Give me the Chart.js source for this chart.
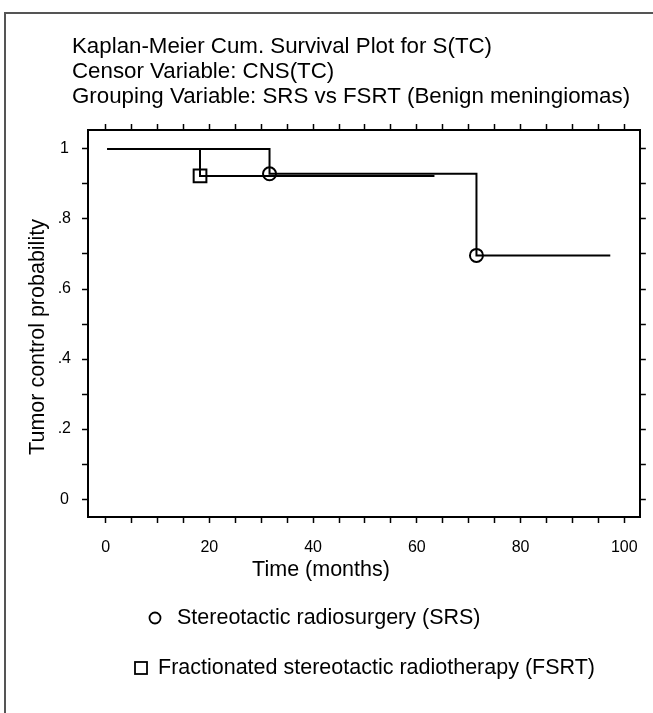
<!DOCTYPE html>
<html>
<head>
<meta charset="utf-8">
<title>Kaplan-Meier Cum. Survival Plot for S(TC)</title>
<script src="https://cdn.jsdelivr.net/npm/chart.js@4.4.1/dist/chart.umd.min.js"></script>
<style>
  html, body { margin: 0; padding: 0; background: #fff; }
  #wrap { position: relative; width: 653px; height: 713px; overflow: hidden; }
  #frame { position: absolute; left: 4px; top: 12px; right: -10px; bottom: -10px;
           border-left: 2px solid #555; border-top: 2px solid #555; }
  canvas { position: absolute; left: 0; top: 0; }
</style>
</head>
<body>
<div id="wrap">
  <div id="frame"></div>
  <canvas id="kmChart" width="653" height="713"></canvas>
</div>
<script>
// Chart data
const srsMonths = [0.3, 31.6, 71.5, 97.3];
const srsSurvival = [1, 0.929, 0.696, 0.696];
const srsMarked = [false, true, true, false];

const fsrtMonths = [0.3, 18.2, 63.4];
const fsrtSurvival = [1, 0.923, 0.923];
const fsrtMarked = [false, true, false];

const xTickLabels = ['0', '20', '40', '60', '80', '100'];
const yTickLabels = ['0', '.2', '.4', '.6', '.8', '1'];

const titleLines = [
    'Kaplan-Meier Cum. Survival Plot for S(TC)',
    'Censor Variable: CNS(TC)',
    'Grouping Variable: SRS vs FSRT (Benign meningiomas)'
];
const xTitle = 'Time (months)';
const yTitle = 'Tumor control probability';
const srsName = 'Stereotactic radiosurgery (SRS)';
const fsrtName = 'Fractionated stereotactic radiotherapy (FSRT)';

const FONT = '"Liberation Sans", Arial, Helvetica, sans-serif';

// axis ranges
const xMin = -3.4, xMax = 103;
const yMin = -0.051, yMax = 1.054;

function points(xs, ys) {
    return xs.map((x, i) => ({ x: x, y: ys[i] }));
}

// shared look for the four frame axes
function frameAxis(position, min, max, step, size, labelFn, padding) {
    const vertical = position === 'left' || position === 'right';
    return {
        type: 'linear',
        position: position,
        min: min,
        max: max,
        afterFit: function (scale) {
            if (vertical) scale.width = size;
            else scale.height = size;
        },
        ticks: {
            stepSize: step,
            includeBounds: false,
            autoSkip: false,
            maxRotation: 0,
            padding: padding,
            crossAlign: vertical ? 'center' : 'near',
            color: '#000',
            font: { family: FONT, size: 16 },
            callback: labelFn
        },
        grid: {
            drawOnChartArea: false,
            drawTicks: true,
            tickLength: 6,
            tickColor: '#000',
            tickWidth: 1.5
        },
        border: { display: true, color: '#000', width: 2 }
    };
}

function xLabel(v) {
    const k = Math.round(v / 5);
    return k % 4 === 0 ? xTickLabels[k / 4] : '';
}
function yLabel(v) {
    const k = Math.round(v * 10);
    return k % 2 === 0 ? yTickLabels[k / 2] : '';
}
const noLabel = () => '';

// titles and legend drawn on the canvas
const textPlugin = {
    id: 'kmText',
    afterDraw(chart) {
        const ctx = chart.ctx;
        ctx.save();
        ctx.fillStyle = '#000';
        ctx.strokeStyle = '#000';
        ctx.textAlign = 'left';
        ctx.textBaseline = 'alphabetic';
        ctx.font = '22.3px ' + FONT;
        titleLines.forEach((t, i) => ctx.fillText(t, 72, 53 + i * 25));

        ctx.font = '21.5px ' + FONT;
        ctx.textAlign = 'center';
        ctx.textBaseline = 'middle';
        ctx.fillText(xTitle, 321, 570);

        ctx.save();
        ctx.translate(38, 337);
        ctx.rotate(-Math.PI / 2);
        ctx.fillText(yTitle, 0, 0);
        ctx.restore();

        // legend
        ctx.textAlign = 'left';
        ctx.lineWidth = 1.8;
        ctx.beginPath();
        ctx.arc(155, 618, 5.5, 0, Math.PI * 2);
        ctx.stroke();
        ctx.fillText(srsName, 177, 618);

        ctx.strokeRect(135, 662, 12, 12);
        ctx.fillText(fsrtName, 158, 668);
        ctx.restore();
    }
};

document.addEventListener('DOMContentLoaded', function () {
    const ctx = document.getElementById('kmChart').getContext('2d');
    const kmChart = new Chart(ctx, {
        type: 'line',
        data: {
            datasets: [{
                label: srsName,
                data: points(srsMonths, srsSurvival),
                stepped: true,
                borderColor: '#000',
                borderWidth: 2,
                pointStyle: 'circle',
                pointRadius: srsMarked.map(m => m ? 6.5 : 0),
                pointBorderColor: '#000',
                pointBorderWidth: 2,
                pointBackgroundColor: 'rgba(0,0,0,0)',
                xAxisID: 'x',
                yAxisID: 'y'
            }, {
                label: fsrtName,
                data: points(fsrtMonths, fsrtSurvival),
                stepped: true,
                borderColor: '#000',
                borderWidth: 2,
                pointStyle: 'rect',
                pointRadius: fsrtMarked.map(m => m ? 9 : 0),
                pointBorderColor: '#000',
                pointBorderWidth: 2,
                pointBackgroundColor: 'rgba(0,0,0,0)',
                xAxisID: 'x',
                yAxisID: 'y'
            }]
        },
        options: {
            responsive: false,
            animation: false,
            devicePixelRatio: 1,
            layout: { padding: 0 },
            plugins: {
                legend: { display: false },
                tooltip: { enabled: false },
                title: { display: false }
            },
            scales: {
                x: frameAxis('bottom', xMin, xMax, 5, 196, xLabel, 15),
                x2: frameAxis('top', xMin, xMax, 5, 130, noLabel, 0),
                y: frameAxis('left', yMin, yMax, 0.1, 88, yLabel, 11),
                y2: frameAxis('right', yMin, yMax, 0.1, 13, noLabel, 0)
            }
        },
        plugins: [textPlugin]
    });
});
</script>
</body>
</html>
